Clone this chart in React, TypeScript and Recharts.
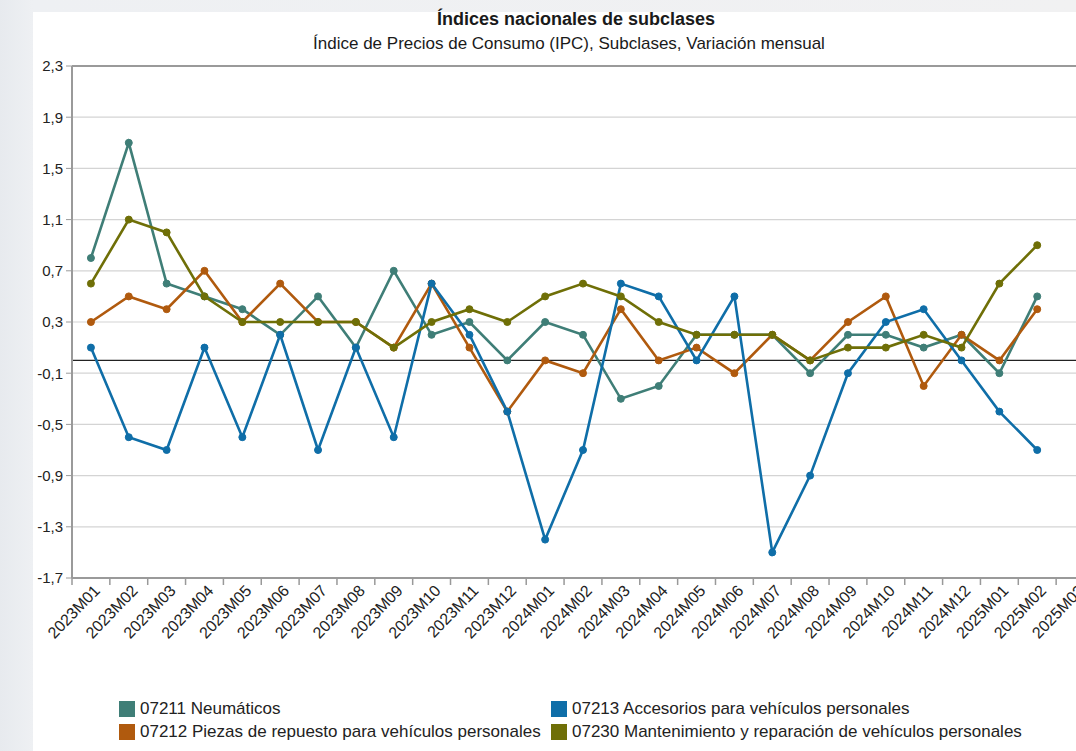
import React from 'react';
import { LineChart, Line, XAxis, YAxis, CartesianGrid, ReferenceLine, Legend } from 'recharts';

const months = [
  '2023M01', '2023M02', '2023M03', '2023M04', '2023M05', '2023M06', '2023M07', '2023M08', '2023M09',
  '2023M10', '2023M11', '2023M12', '2024M01', '2024M02', '2024M03', '2024M04', '2024M05', '2024M06',
  '2024M07', '2024M08', '2024M09', '2024M10', '2024M11', '2024M12', '2025M01', '2025M02', '2025M03',
];

const neumaticos = [0.8, 1.7, 0.6, 0.5, 0.4, 0.2, 0.5, 0.1, 0.7, 0.2, 0.3, 0.0, 0.3, 0.2, -0.3, -0.2, 0.2, 0.2, 0.2, -0.1, 0.2, 0.2, 0.1, 0.2, -0.1, 0.5, null];
const piezas = [0.3, 0.5, 0.4, 0.7, 0.3, 0.6, 0.3, 0.3, 0.1, 0.6, 0.1, -0.4, 0.0, -0.1, 0.4, 0.0, 0.1, -0.1, 0.2, 0.0, 0.3, 0.5, -0.2, 0.2, 0.0, 0.4, null];
const accesorios = [0.1, -0.6, -0.7, 0.1, -0.6, 0.2, -0.7, 0.1, -0.6, 0.6, 0.2, -0.4, -1.4, -0.7, 0.6, 0.5, 0.0, 0.5, -1.5, -0.9, -0.1, 0.3, 0.4, 0.0, -0.4, -0.7, null];
const mantenimiento = [0.6, 1.1, 1.0, 0.5, 0.3, 0.3, 0.3, 0.3, 0.1, 0.3, 0.4, 0.3, 0.5, 0.6, 0.5, 0.3, 0.2, 0.2, 0.2, 0.0, 0.1, 0.1, 0.2, 0.1, 0.6, 0.9, null];

const yTicks = [-1.7, -1.3, -0.9, -0.5, -0.1, 0.3, 0.7, 1.1, 1.5, 1.9, 2.3];

const titleText = 'Índices nacionales de subclases';
const subtitleText = 'Índice de Precios de Consumo (IPC), Subclases, Variación mensual';

const series = [
  { key: 'n', name: '07211 Neumáticos', color: '#3f7e77', values: neumaticos },
  { key: 'p', name: '07212 Piezas de repuesto para vehículos personales', color: '#b05a0e', values: piezas },
  { key: 'a', name: '07213 Accesorios para vehículos personales', color: '#0f6ea8', values: accesorios },
  { key: 'm', name: '07230 Mantenimiento y reparación de vehículos personales', color: '#6f6f07', values: mantenimiento },
];

const data = months.map((m, i) => {
  const row: any = { month: m };
  series.forEach((s) => { row[s.key] = s.values[i]; });
  return row;
});

const CHART_W = 1110;
const MARGIN = { top: 66, right: 16, left: 32, bottom: 2 };
const Y_W = 40;
const BAND = (CHART_W - MARGIN.left - Y_W - MARGIN.right) / months.length;
const FONT = '"Liberation Sans", Arial, sans-serif';

const XTick = (props: any) => {
  const { x, y, payload } = props;
  return (
    <g transform={`translate(${x},${y})`}>
      <line x1={-BAND / 2} x2={-BAND / 2} y1={-8} y2={-1} stroke="#999" strokeWidth={1.5} />
      <text
        x={0}
        y={0}
        dx={3}
        dy={11}
        transform="rotate(-46)"
        textAnchor="end"
        fill="#222"
        fontSize={16}
        fontFamily={FONT}
      >
        {payload.value}
      </text>
    </g>
  );
};

const LegendContent = () => {
  const cols = [[series[0], series[1]], [series[2], series[3]]];
  const colX = [119, 551];
  return (
    <div style={{ position: 'relative', height: 56, fontFamily: FONT, fontSize: 17, color: '#222' }}>
      {cols.map((col, ci) =>
        col.map((s, ri) => (
          <div
            key={s.key}
            style={{ position: 'absolute', left: colX[ci], top: 6 + ri * 23, height: 20, display: 'flex', alignItems: 'center', whiteSpace: 'nowrap' }}
          >
            <span style={{ display: 'inline-block', width: 16, height: 16, background: s.color, marginRight: 5 }} />
            <span>{s.name}</span>
          </div>
        ))
      )}
    </div>
  );
};

export default function App() {
  return (
    <div
      style={{
        position: 'absolute',
        left: 0,
        top: 0,
        width: 1076,
        height: 751,
        overflow: 'hidden',
        background: 'linear-gradient(90deg, #e7eaee 0px, #eef0f3 33px, #f1f1f2 100%)',
      }}
    >
      <div style={{ position: 'absolute', left: 33, top: 12, width: 1100, height: 751, background: '#ffffff' }} />
      <div
        style={{
          position: 'absolute', left: 0, top: 9, width: 1152, textAlign: 'center',
          fontFamily: FONT, fontWeight: 'bold', fontSize: 18, lineHeight: '20px', color: '#1a1a1a',
        }}
      >
        {titleText}
      </div>
      <div
        style={{
          position: 'absolute', left: 0, top: 35, width: 1138, textAlign: 'center',
          fontFamily: FONT, fontSize: 17, lineHeight: '18px', color: '#1a1a1a',
        }}
      >
        {subtitleText}
      </div>
      <div style={{ position: 'absolute', left: 0, top: 0 }}>
        <LineChart width={CHART_W} height={751} data={data} margin={MARGIN}>
          <CartesianGrid vertical={false} stroke="#d4d4d4" strokeWidth={1.2} />
          <XAxis
            dataKey="month"
            interval={0}
            height={115}
            padding={{ left: BAND / 2, right: BAND / 2 }}
            tick={<XTick />}
            tickLine={false}
            tickSize={6}
            tickMargin={2}
            axisLine={{ stroke: '#9a9a9a', strokeWidth: 2 }}
          />
          <YAxis
            width={Y_W}
            domain={[-1.7, 2.3]}
            ticks={yTicks}
            interval={0}
            allowDataOverflow
            tickSize={6}
            tickMargin={3}
            tickFormatter={(v: number) => v.toFixed(1).replace('.', ',')}
            tick={{ fill: '#222', fontSize: 15, fontFamily: FONT }}
            tickLine={{ stroke: '#9a9a9a' }}
            axisLine={{ stroke: '#9a9a9a', strokeWidth: 2 }}
          />
          <ReferenceLine y={2.3} stroke="#9a9a9a" strokeWidth={2} />
          <ReferenceLine y={0} stroke="#222" strokeWidth={1.3} />
          {series.map((s) => (
            <Line
              key={s.key}
              type="linear"
              dataKey={s.key}
              name={s.name}
              stroke={s.color}
              strokeWidth={2.6}
              dot={{ r: 3.5, fill: s.color, stroke: s.color, strokeWidth: 1 }}
              activeDot={false}
              isAnimationActive={false}
              connectNulls={false}
            />
          ))}
          <Legend verticalAlign="bottom" content={<LegendContent />} wrapperStyle={{ left: 0, width: CHART_W, bottom: 2, height: 56 }} />
        </LineChart>
      </div>
    </div>
  );
}
